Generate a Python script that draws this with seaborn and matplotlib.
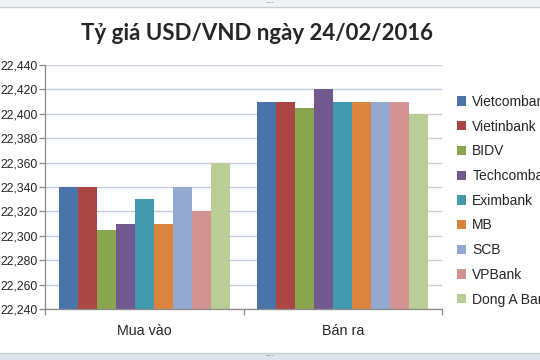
import matplotlib
matplotlib.use("Agg")
import matplotlib.pyplot as plt
import seaborn as sns
import pandas as pd
from matplotlib.ticker import FuncFormatter
from matplotlib.patches import Rectangle

categories = ["Mua vào", "Bán ra"]
banks = ["Vietcombank", "Vietinbank", "BIDV", "Techcombank", "Eximbank",
         "MB", "SCB", "VPBank", "Dong A Bank"]
mua_vao = [22340, 22340, 22305, 22310, 22330, 22310, 22340, 22320, 22360]
ban_ra = [22410, 22410, 22405, 22420, 22410, 22410, 22410, 22410, 22400]
colors = ["#4A74A9", "#AA4644", "#89A54E", "#71588F", "#4198AF",
          "#DB843D", "#93A9CF", "#D19392", "#B9CD96"]

rows = []
for b, v in zip(banks, mua_vao):
    rows.append({"cat": categories[0], "bank": b, "val": v})
for b, v in zip(banks, ban_ra):
    rows.append({"cat": categories[1], "bank": b, "val": v})
df = pd.DataFrame(rows)

sns.set_style("white")
fig = plt.figure(figsize=(5.4, 3.6), dpi=100)
ax = fig.add_axes([45/540, (360-309)/360, (442-45)/540, (309-65)/360])

sns.barplot(data=df, x="cat", y="val", hue="bank", palette=colors,
            width=0.86, ax=ax, saturation=1, edgecolor="none", linewidth=0,
            legend=True)

ax.set_ylim(22240, 22440)
ax.set_xlim(-0.5, 1.5)
ax.set_yticks(range(22240, 22441, 20))
ax.yaxis.set_major_formatter(FuncFormatter(lambda v, p: f"{int(v):,}"))
ax.grid(axis="y", color="#C6CFDD", linewidth=1.0)
ax.set_axisbelow(True)
for s in ["top", "right"]:
    ax.spines[s].set_visible(False)
for s in ["left", "bottom"]:
    ax.spines[s].set_color("#8A8A8A")
    ax.spines[s].set_linewidth(0.9)
ax.set_xlabel("")
ax.set_ylabel("")
ax.tick_params(axis="y", which="major", direction="out", length=4, width=0.9,
               color="#8A8A8A", labelsize=8.8, pad=1.5, left=True)
ax.tick_params(axis="x", length=0, labelsize=10.3, pad=11)
for lab in ax.get_yticklabels():
    lab.set_fontfamily("Liberation Sans")
for lab in ax.get_xticklabels():
    lab.set_fontfamily("Liberation Sans")
ax.set_xticks([-0.5, 0.5, 1.5], minor=True)
ax.tick_params(axis="x", which="minor", direction="out", length=4, width=0.9,
               color="#8A8A8A", bottom=True)

leg = ax.legend(loc="upper left", bbox_to_anchor=(457/540, (360-95)/360),
                bbox_transform=fig.transFigure, frameon=False,
                handlelength=0.65, handleheight=0.65, handletextpad=0.45,
                labelspacing=0.77, prop={"family": "Liberation Sans", "size": 10},
                borderaxespad=0, borderpad=0)

fig.text(257/540, 1 - 33/360, "Tỷ giá USD/VND ngày 24/02/2016", ha="center",
         va="center", fontsize=16, fontweight="bold", family="Lato")

# frame strips
fig.patches.append(Rectangle((0, 1 - 7/360), 1, 7/360, transform=fig.transFigure,
                             facecolor="#F0F3F4", edgecolor="none"))
fig.lines.append(plt.Line2D([0, 1], [1 - 7/360, 1 - 7/360], transform=fig.transFigure,
                            color="#C8CDD0", linewidth=1))
fig.patches.append(Rectangle((0, 0), 1, 7/360, transform=fig.transFigure,
                             facecolor="#DCE6EA", edgecolor="none"))
fig.lines.append(plt.Line2D([0, 1], [7/360, 7/360], transform=fig.transFigure,
                            color="#C8CDD0", linewidth=1))
fig.text(0.5, 1 - 3.5/360, "····", ha="center", va="center", fontsize=5, color="#666666")
fig.text(0.5, 4/360, "····", ha="center", va="center", fontsize=5, color="#666666")

fig.savefig("out.png", dpi=100)
